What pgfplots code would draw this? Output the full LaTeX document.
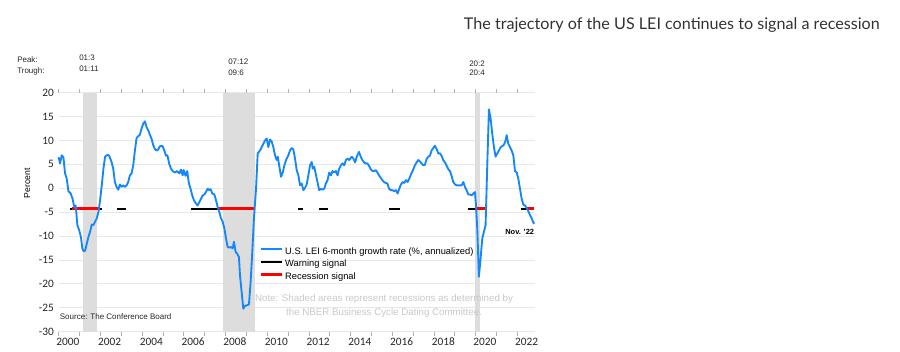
\documentclass[border=0pt]{standalone}
\usepackage{fontspec}
\setmainfont{Liberation Sans}
\newfontfamily\carlito{Carlito}
\newfontfamily\titlefont{Lato}
\usepackage{pgfplots}
\pgfplotsset{compat=1.18}
\definecolor{leiblue}{RGB}{20,135,250}
\definecolor{shade}{RGB}{221,221,221}
\definecolor{gridc}{RGB}{232,232,232}
\definecolor{notegray}{RGB}{200,200,200}
\definecolor{sigred}{RGB}{255,0,0}

\begin{document}
\begin{tikzpicture}
\begin{scope}[x=0.75pt,y=0.75pt]
\path[use as bounding box] (0,0) rectangle (900,352);
\end{scope}
\begin{axis}[
  at={(43.95pt,15.225pt)}, anchor=south west,
  scale only axis, width=357.3pt, height=179.3pt,
  xmin=2000, xmax=2022.85, ymin=-30, ymax=20,
  axis line style={draw=none},
  ytick={-30,-25,-20,-15,-10,-5,0,5,10,15,20},
  yticklabels={-30,-25,-20,-15,-10,-5,0,5,10,15,20},
  ymajorgrids, grid style={gridc, line width=0.6pt},
  xtick={2000.45,2002.45,2004.45,2006.45,2008.45,2010.45,2012.45,2014.45,2016.45,2018.45,2020.45,2022.45},
  xticklabels={2000,2002,2004,2006,2008,2010,2012,2014,2016,2018,2020,2022},
  minor xtick={2000,2001,...,2022},
  major tick length=0pt, minor tick length=3pt,
  tick align=outside,
  tick style={gray!60, line width=0.4pt},
  tick label style={font=\carlito\fontsize{8.5}{10}\selectfont, text=black!85},
  xticklabel style={yshift=-1pt},
  /pgf/number format/assume math mode=true,
  clip=false,
  ylabel={Percent},
  ylabel style={font=\fontsize{6.5}{7}\selectfont, at={(axis description cs:-0.066,0.62)}, anchor=center},
  legend image code/.code={\draw[#1] (0pt,2.3pt) -- (16pt,2.3pt);},
  legend style={at={(axis cs:2009.62,-12.1)}, anchor=north west, draw=none, fill=none,
    font=\fontsize{7}{8}\selectfont, row sep=0.9pt, inner sep=0pt,
    nodes={inner sep=1pt, text height=5pt, text depth=1.5pt}},
  legend cell align=left,
]
% recession shading
\addplot[fill=shade, draw=none, forget plot] coordinates {(2001.17,-30)(2001.17,20)(2001.85,20)(2001.85,-30)};
\addplot[fill=shade, draw=none, forget plot] coordinates {(2007.88,-30)(2007.88,20)(2009.42,20)(2009.42,-30)};
\addplot[fill=shade, draw=none, forget plot] coordinates {(2019.98,-30)(2019.98,20)(2020.22,20)(2020.22,-30)};

\addlegendimage{draw=leiblue, line width=1.5pt}
\addlegendentry{U.S. LEI 6-month growth rate (\%, annualized)}
\addlegendimage{draw=black, line width=1.5pt}
\addlegendentry{Warning signal}
\addlegendimage{draw=sigred, line width=2.3pt}
\addlegendentry{Recession signal}

% warning signals
\addplot[black, line width=1.2pt, forget plot, unbounded coords=jump] coordinates {
(2000.56,-4.3)(2000.64,-4.3)(2000.65,nan)
(2001.95,-4.3)(2002.10,-4.3)(2002.2,nan)
(2002.79,-4.3)(2003.23,-4.3)(2003.3,nan)
(2006.33,-4.3)(2007.63,-4.3)(2007.7,nan)
(2011.50,-4.3)(2011.74,-4.3)(2011.8,nan)
(2012.50,-4.3)(2012.90,-4.3)(2013.0,nan)
(2015.85,-4.3)(2016.37,-4.3)(2016.5,nan)
(2019.65,-4.3)(2020.00,-4.3)(2020.1,nan)
(2022.18,-4.3)(2022.42,-4.3)};
% recession signals
\addplot[sigred, line width=2.3pt, forget plot, unbounded coords=jump] coordinates {
(2000.64,-4.3)(2001.95,-4.3)(2002.0,nan)
(2007.63,-4.3)(2009.42,-4.3)(2009.5,nan)
(2020.00,-4.3)(2020.56,-4.3)(2020.6,nan)
(2022.42,-4.3)(2022.80,-4.3)};

% LEI line
\addplot[leiblue, line width=1.4pt, forget plot, line join=round] coordinates {
(2000.00,6.5)(2000.07,5.2)(2000.15,6.9)(2000.23,6.5)(2000.31,3.1)(2000.39,2.0)(2000.47,-0.6)(2000.58,-1.1)(2000.67,-2.2)(2000.75,-3.9)(2000.82,-3.6)(2000.90,-7.7)(2000.99,-8.8)
(2001.07,-10.2)(2001.14,-12.6)(2001.19,-13.1)(2001.27,-13.1)(2001.35,-11.6)(2001.43,-10.2)(2001.51,-9.1)(2001.59,-7.6)(2001.67,-7.7)(2001.75,-7.0)(2001.83,-6.3)(2001.91,-5.0)(2001.99,-2.5)
(2002.07,0.6)(2002.15,4.1)(2002.23,6.6)(2002.34,7.0)(2002.43,6.8)(2002.54,5.5)(2002.62,4.1)(2002.70,1.3)(2002.78,0.3)(2002.86,-0.3)(2002.94,0.8)
(2003.02,0.3)(2003.10,0.6)(2003.18,0.3)(2003.26,0.6)(2003.34,1.3)(2003.42,2.7)(2003.50,3.1)(2003.58,4.8)(2003.66,7.9)(2003.74,10.5)(2003.82,10.9)(2003.90,11.2)(2003.98,12.5)
(2004.06,13.5)(2004.14,14.0)(2004.22,12.8)(2004.30,12.1)(2004.38,11.2)(2004.46,10.3)(2004.54,9.0)(2004.62,8.2)(2004.70,7.9)(2004.78,8.1)(2004.86,8.8)(2004.99,8.8)
(2005.07,7.9)(2005.15,6.8)(2005.22,6.9)(2005.30,5.2)(2005.39,4.1)(2005.47,3.6)(2005.58,3.3)(2005.69,3.6)(2005.79,3.1)(2005.87,3.9)(2005.95,2.7)
(2006.00,3.8)(2006.09,2.6)(2006.17,3.6)(2006.25,1.0)(2006.33,-0.1)(2006.41,-1.5)(2006.49,-2.5)(2006.59,-3.2)(2006.67,-3.6)(2006.75,-2.9)(2006.83,-2.2)(2006.91,-1.5)(2006.99,-1.3)
(2007.07,-0.8)(2007.15,-0.1)(2007.22,-0.4)(2007.29,-0.2)(2007.37,-1.1)(2007.47,-1.3)(2007.55,-2.5)(2007.63,-3.9)(2007.71,-5.0)(2007.79,-6.3)(2007.87,-7.0)(2007.95,-8.4)
(2008.03,-10.5)(2008.11,-12.3)(2008.19,-12.4)(2008.27,-12.3)(2008.35,-12.6)(2008.41,-11.2)(2008.49,-13.3)(2008.57,-13.7)(2008.65,-14.4)(2008.70,-18.2)(2008.78,-21.7)(2008.86,-25.2)(2008.94,-24.6)
(2009.02,-24.5)(2009.13,-24.3)(2009.21,-19.6)(2009.29,-13.3)(2009.37,-6.3)(2009.47,-0.1)(2009.55,7.3)(2009.66,7.9)(2009.74,8.6)(2009.82,9.3)(2009.90,10.0)(2009.98,10.4)
(2010.06,8.6)(2010.14,10.2)(2010.22,9.8)(2010.30,8.6)(2010.38,6.9)(2010.46,5.9)(2010.51,6.6)(2010.59,4.5)(2010.67,2.4)(2010.75,3.3)(2010.83,4.8)(2010.91,5.9)
(2011.02,6.9)(2011.10,7.9)(2011.18,8.4)(2011.26,8.1)(2011.34,6.2)(2011.42,3.8)(2011.50,2.7)(2011.58,0.6)(2011.66,1.0)(2011.74,-0.4)(2011.82,0.1)(2011.90,0.8)(2011.98,2.7)
(2012.06,4.8)(2012.14,5.5)(2012.19,4.1)(2012.26,4.5)(2012.35,2.7)(2012.43,1.0)(2012.50,-0.4)(2012.58,-0.1)(2012.66,-0.3)(2012.74,-0.1)(2012.82,1.0)(2012.90,1.7)(2012.98,3.3)
(2013.06,2.7)(2013.14,3.6)(2013.22,3.3)(2013.30,3.6)(2013.38,2.7)(2013.46,4.1)(2013.54,4.8)(2013.62,5.2)(2013.70,4.8)(2013.78,5.9)(2013.86,6.2)(2013.94,5.9)
(2014.06,6.6)(2014.14,6.2)(2014.22,5.4)(2014.30,6.6)(2014.41,7.6)(2014.49,6.6)(2014.57,5.9)(2014.65,5.4)(2014.73,5.2)(2014.81,5.2)(2014.89,4.7)(2014.97,4.0)
(2015.05,3.6)(2015.13,3.6)(2015.21,3.8)(2015.29,3.3)(2015.37,2.7)(2015.45,2.2)(2015.53,1.7)(2015.61,1.3)(2015.69,1.1)(2015.77,1.0)(2015.85,-0.1)(2015.93,-0.4)
(2016.01,-0.4)(2016.09,-0.6)(2016.18,-0.4)(2016.26,-1.1)(2016.34,-0.1)(2016.42,0.8)(2016.50,1.3)(2016.58,1.1)(2016.66,1.7)(2016.74,1.3)(2016.82,2.0)(2016.90,2.9)(2016.98,3.6)
(2017.09,4.8)(2017.17,5.4)(2017.25,5.9)(2017.33,5.6)(2017.41,5.2)(2017.49,4.8)(2017.57,4.9)(2017.65,6.1)(2017.73,6.6)(2017.81,6.8)(2017.89,7.9)(2017.97,8.4)
(2018.05,8.9)(2018.13,8.2)(2018.21,7.3)(2018.29,7.3)(2018.37,6.8)(2018.45,5.9)(2018.53,5.4)(2018.61,4.7)(2018.69,4.0)(2018.77,3.6)(2018.85,2.6)(2018.93,1.3)
(2019.01,0.8)(2019.09,0.6)(2019.17,0.6)(2019.25,0.6)(2019.33,0.6)(2019.41,1.3)(2019.49,0.3)(2019.57,-0.4)(2019.65,-1.3)(2019.73,-1.3)(2019.81,-1.5)(2019.89,-1.1)(2019.97,-0.8)
(2020.02,-3.6)(2020.08,-8.4)(2020.16,-18.5)(2020.24,-14.7)(2020.32,-10.5)(2020.40,-9.1)(2020.48,-7.7)(2020.56,4.8)(2020.64,16.5)(2020.72,14.6)(2020.80,11.4)(2020.88,8.6)(2020.96,6.6)
(2021.04,7.3)(2021.12,7.9)(2021.20,8.6)(2021.28,8.8)(2021.36,9.1)(2021.44,10.0)(2021.49,11.1)(2021.57,9.3)(2021.65,8.6)(2021.73,7.9)(2021.81,6.9)(2021.89,3.6)(2021.97,3.3)
(2022.05,2.0)(2022.13,-0.1)(2022.21,-2.2)(2022.29,-3.4)(2022.37,-3.6)(2022.45,-4.1)(2022.53,-4.8)(2022.61,-5.6)(2022.69,-6.3)(2022.77,-7.2)(2022.82,-7.4)};

\node[anchor=east, font=\bfseries\fontsize{5.6}{7}\selectfont, inner sep=0pt] at (axis cs:2022.82,-9.2) {Nov. '22};
\node[anchor=west, font=\fontsize{6}{7}\selectfont, text=black!85, inner sep=0pt] at (axis cs:2000.05,-26.9) {Source: The Conference Board};
\node[align=center, font=\fontsize{7.3}{10.5}\selectfont, text=notegray, inner sep=0pt] at (axis cs:2015.61,-24.7) {Note: Shaded areas represent recessions as determined by\\the NBER Business Cycle Dating Committee.};
\end{axis}
\begin{scope}[x=0.75pt,y=0.75pt, every node/.style={inner sep=0pt, font=\fontsize{6}{7}\selectfont, text=black!85}]
\node[anchor=west] at (17,292) {Peak:};
\node[anchor=west] at (17,281) {Trough:};
\node[anchor=west] at (79,294) {01:3};
\node[anchor=west] at (79,283) {01:11};
\node[anchor=west] at (228,290) {07:12};
\node[anchor=west] at (228,279) {09:6};
\node[anchor=west] at (469,288) {20:2};
\node[anchor=west] at (469,279) {20:4};
\node[anchor=east, font=\titlefont\fontsize{12.1}{14}\selectfont, text=black!80] at (880,327) {The trajectory of the US LEI continues to signal a recession};
\end{scope}
\end{tikzpicture}
\end{document}
